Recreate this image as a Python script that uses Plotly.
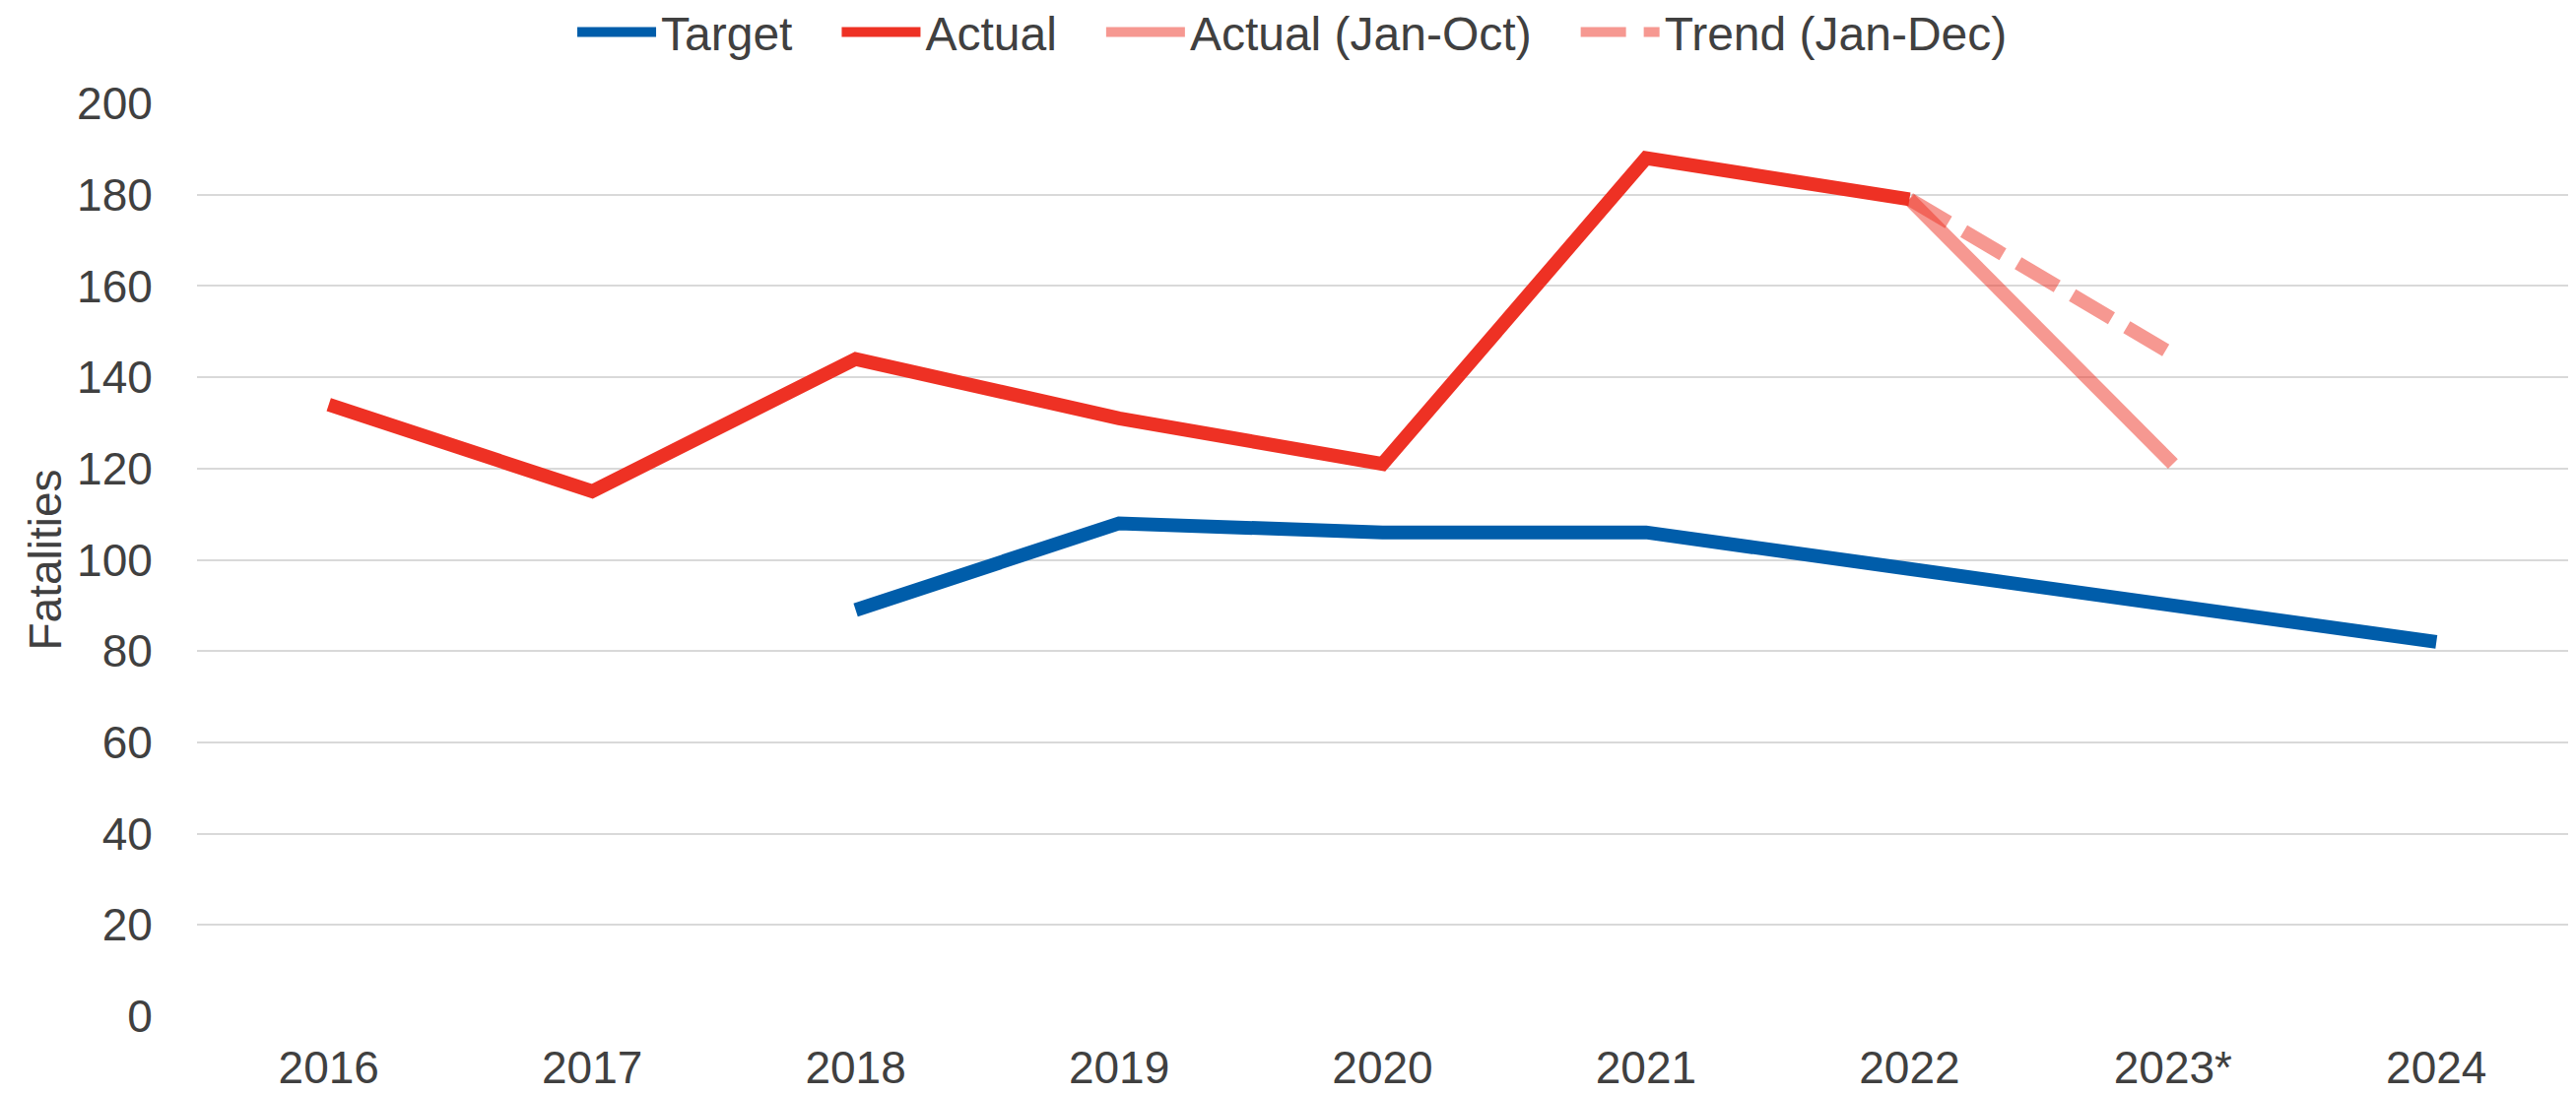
import plotly.graph_objects as go

years = ["2016", "2017", "2018", "2019", "2020", "2021", "2022", "2023*", "2024"]

target_years = ["2018", "2019", "2020", "2021", "2022", "2023*", "2024"]
target_vals = [89, 108, 106, 106, 98, 90, 82]

actual_years = ["2016", "2017", "2018", "2019", "2020", "2021", "2022"]
actual_vals = [134, 115, 144, 131, 121, 188, 179]

janoct_years = ["2022", "2023*"]
janoct_vals = [179, 121]

trend_years = ["2022", "2023*"]
trend_vals = [179, 145]

y_ticks = [0, 20, 40, 60, 80, 100, 120, 140, 160, 180, 200]

BLUE = "#005DAA"
RED = "#EE3124"
PINK = "rgba(238,49,36,0.5)"
FONT = "Liberation Sans, Arial, sans-serif"
TXT = "#404040"
LW = 14
PAD = "\u00a0\u00a0\u00a0"

fig = go.Figure()
fig.add_trace(go.Scatter(x=target_years, y=target_vals, mode="lines", name="Target" + PAD,
                         line=dict(color=BLUE, width=LW)))
fig.add_trace(go.Scatter(x=actual_years, y=actual_vals, mode="lines", name="Actual" + PAD,
                         line=dict(color=RED, width=LW)))
fig.add_trace(go.Scatter(x=janoct_years, y=janoct_vals, mode="lines", name="Actual (Jan-Oct)" + PAD,
                         line=dict(color=PINK, width=LW)))
fig.add_trace(go.Scatter(x=trend_years, y=trend_vals, mode="lines", name="Trend (Jan-Dec)",
                         line=dict(color=PINK, width=LW, dash="46px,18px")))

fig.update_layout(
    width=2615, height=1111,
    margin=dict(l=200, r=8, t=105, b=79, autoexpand=False),
    paper_bgcolor="white", plot_bgcolor="white",
    font=dict(family=FONT, size=46, color=TXT),
    showlegend=True,
    legend=dict(orientation="h", x=0.462, xanchor="center", y=1.078, yanchor="middle",
                font=dict(family=FONT, size=48, color=TXT), itemwidth=80,
                bgcolor="rgba(0,0,0,0)", tracegroupgap=0),
)
fig.update_xaxes(type="category", categoryorder="array", categoryarray=years,
                 range=[-0.5, len(years) - 0.5],
                 showgrid=False, showline=False, zeroline=False,
                 ticks="outside", ticklen=12, tickcolor="rgba(0,0,0,0)",
                 tickfont=dict(family=FONT, size=46, color=TXT), automargin=False)
fig.update_yaxes(range=[0, 200], tickvals=y_ticks,
                 showgrid=True, gridcolor="#D9D9D9", gridwidth=2,
                 showline=False, zeroline=False,
                 ticks="outside", ticklen=35, tickcolor="rgba(0,0,0,0)",
                 tickfont=dict(family=FONT, size=46, color=TXT),
                 title=dict(text="Fatalities", font=dict(family=FONT, size=46, color=TXT), standoff=0),
                 automargin=False)

fig.write_html("out.html")
